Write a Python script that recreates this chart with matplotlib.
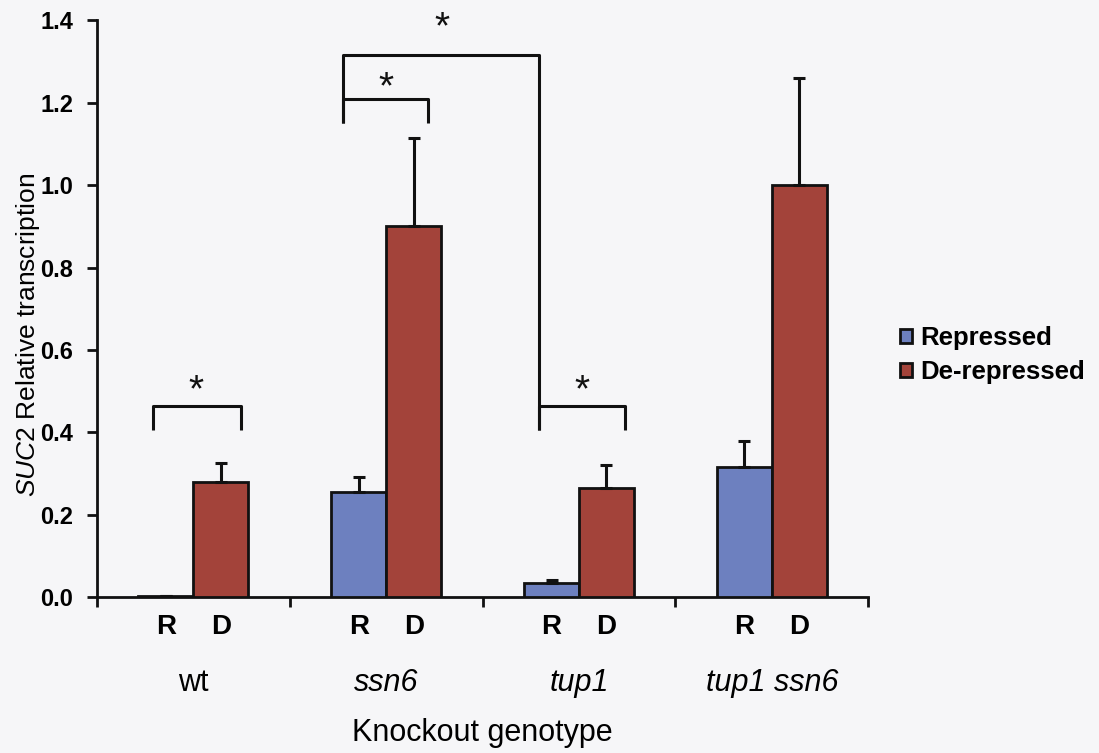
import matplotlib
matplotlib.use("Agg")
import matplotlib.pyplot as plt
import numpy as np
from matplotlib.transforms import blended_transform_factory
from matplotlib.patches import Patch

plt.rcParams["font.family"] = ["Liberation Sans", "DejaVu Sans"]
plt.rcParams["mathtext.fontset"] = "custom"
plt.rcParams["mathtext.rm"] = "Liberation Sans"
plt.rcParams["mathtext.it"] = "Liberation Sans:italic"

# ------------------------------------------------------------------
# Data
# ------------------------------------------------------------------
genotypes = ["wt", "ssn6", "tup1", "tup1 ssn6"]
genotype_italic = [False, True, True, True]
repressed = [0.003, 0.256, 0.035, 0.315]
repressed_err = [0.0, 0.036, 0.006, 0.065]
derepressed = [0.280, 0.900, 0.265, 1.000]
derepressed_err = [0.045, 0.215, 0.055, 0.260]

BLUE = "#6d80bf"
RED = "#a3433a"
BG = "#f6f6f8"
INK = "#111111"

fig = plt.figure(figsize=(10.99, 7.53), dpi=100)
fig.patch.set_facecolor(BG)
ax = fig.add_axes([0.0883, 0.207, 0.7017, 0.766])
ax.set_facecolor(BG)

x = np.arange(len(genotypes))
w = 0.285
ekw = dict(ecolor=INK, elinewidth=2.2, capsize=4, capthick=2.2)
ax.bar(x - w / 2, repressed, w, color=BLUE, edgecolor=INK, linewidth=2,
       yerr=[np.zeros(4), repressed_err], error_kw=ekw, zorder=3)
ax.bar(x + w / 2, derepressed, w, color=RED, edgecolor=INK, linewidth=2,
       yerr=[np.zeros(4), derepressed_err], error_kw=ekw, zorder=3)

ax.set_xlim(-0.5, 3.5)
ax.set_ylim(0, 1.4)
yt = np.arange(0, 1.41, 0.2)
ax.set_yticks(yt)
ax.set_yticklabels([f"{v:.1f}" for v in yt], fontsize=17, fontweight="bold")
ax.set_xticks(np.arange(-0.5, 3.6, 1.0))
ax.set_xticklabels([])
ax.tick_params(axis="both", direction="out", length=7, width=2, color=INK)
ax.tick_params(axis="y", pad=10)
for s in ("top", "right"):
    ax.spines[s].set_visible(False)
for s in ("left", "bottom"):
    ax.spines[s].set_linewidth(2)
    ax.spines[s].set_color(INK)

ax.set_ylabel(r"$\it{SUC2}$ Relative transcription", fontsize=19)
ax.yaxis.set_label_coords(-0.072, 0.454)

# R / D labels and genotype labels below axis
tr = blended_transform_factory(ax.transData, fig.transFigure)
for i, g in enumerate(genotypes):
    ax.text(i - w / 2, 1 - 627 / 753, "R", transform=tr, ha="center",
            va="center", fontsize=20, fontweight="bold")
    ax.text(i + w / 2, 1 - 627 / 753, "D", transform=tr, ha="center",
            va="center", fontsize=20, fontweight="bold")
    ax.text(i, 1 - 683 / 753, g, transform=tr, ha="center", va="center",
            fontsize=22, fontstyle="italic" if genotype_italic[i] else "normal")
ax.text(1.5, 1 - 733 / 753, "Knockout genotype", transform=tr,
        ha="center", va="center", fontsize=22)

# significance brackets
blk = dict(color=INK, lw=2.2, solid_capstyle="butt", clip_on=False, zorder=4)
ax.plot([-0.21, -0.21, 0.245, 0.245], [0.405, 0.464, 0.464, 0.405], **blk)
ax.plot([0.775, 0.775, 1.215, 1.215], [1.15, 1.21, 1.21, 1.15], **blk)
ax.plot([0.775, 0.775, 1.79, 1.79], [1.15, 1.315, 1.315, 0.405], **blk)
ax.plot([1.79, 1.79, 2.24, 2.24], [0.405, 0.464, 0.464, 0.405], **blk)
star = dict(ha="center", va="center", fontsize=28, color=INK, zorder=5)
ax.text(0.015, 0.50, "*", **star)
ax.text(1.0, 1.235, "*", **star)
ax.text(1.29, 1.38, "*", **star)
ax.text(2.015, 0.50, "*", **star)

handles = [Patch(facecolor=BLUE, edgecolor=INK, linewidth=2, label="Repressed"),
           Patch(facecolor=RED, edgecolor=INK, linewidth=2, label="De-repressed")]
fig.legend(handles=handles, loc="center left",
           bbox_to_anchor=(900 / 1099, 1 - 355 / 753),
           frameon=False, prop=dict(size=18.5, weight="bold"),
           borderpad=0, borderaxespad=0,
           handlelength=0.45, handleheight=0.45, handletextpad=0.35,
           labelspacing=0.4)

fig.savefig("out.png", dpi=100, facecolor=BG)
